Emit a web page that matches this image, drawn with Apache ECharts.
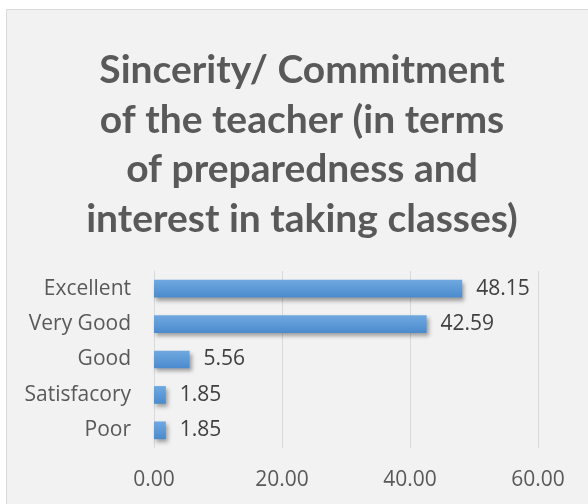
<!DOCTYPE html>
<html><head><meta charset="utf-8">
<script src="https://cdn.jsdelivr.net/npm/echarts@6/dist/echarts.min.js"></script>
<style>html,body{margin:0;padding:0;background:#fff}#c{width:588px;height:504px}</style>
</head><body><div id="c"></div>
<script>
var categories = ['Poor', 'Satisfacory', 'Good', 'Very Good', 'Excellent'];
var values = [1.85, 1.85, 5.56, 42.59, 48.15];
var xTicks = [0, 20, 40, 60];
var titleLines = ['Sincerity/ Commitment', 'of the teacher (in terms', 'of preparedness and', 'interest in taking classes)'];

var chart = echarts.init(document.getElementById('c'), null, {renderer: 'canvas'});
chart.setOption({
  backgroundColor: '#ffffff',
  graphic: [{
    type: 'rect', z: -10, silent: true,
    shape: {x: 6.5, y: 9.5, width: 600, height: 600},
    style: {fill: '#f2f2f2', stroke: '#d9d9d9', lineWidth: 1}
  }],
  title: {
    text: titleLines.join('\n'),
    left: 297, top: 41, textAlign: 'center',
    textStyle: {fontFamily: 'Lato', fontWeight: 'bold', fontSize: 39, lineHeight: 49.5, color: '#595959'}
  },
  grid: {left: 154, right: 50, top: 271, bottom: 56, containLabel: false},
  xAxis: {
    type: 'value', min: xTicks[0], max: xTicks[xTicks.length - 1], interval: 20,
    axisLine: {show: false}, axisTick: {show: false},
    axisLabel: {color: '#595959', fontFamily: 'Open Sans', fontSize: 21, margin: 22,
      formatter: function (v) { return v.toFixed(2); }},
    splitLine: {lineStyle: {color: '#d9d9d9', width: 1}}
  },
  yAxis: {
    type: 'category', data: categories,
    axisLine: {show: true, lineStyle: {color: '#d9d9d9'}}, axisTick: {show: false},
    axisLabel: {color: '#595959', fontFamily: 'Open Sans', fontSize: 21, margin: 23}
  },
  series: [{
    type: 'bar', data: values, barCategoryGap: '50%',
    itemStyle: {
      color: new echarts.graphic.LinearGradient(0, 0, 0, 1, [
        {offset: 0, color: '#70a9e0'}, {offset: 1, color: '#4a8acd'}
      ]),
      shadowColor: 'rgba(0,0,0,0.35)', shadowBlur: 4, shadowOffsetX: 2, shadowOffsetY: 3
    },
    label: {show: true, position: 'right', distance: 14, color: '#404040', fontFamily: 'Open Sans', fontSize: 21,
      formatter: function (p) { return p.value.toFixed(2); }}
  }]
});
</script></body></html>
